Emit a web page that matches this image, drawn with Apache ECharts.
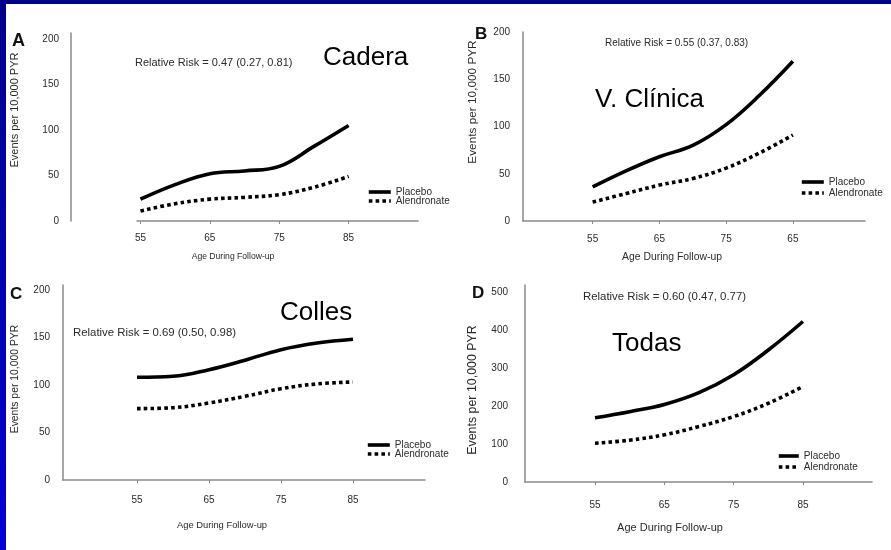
<!DOCTYPE html>
<html>
<head>
<meta charset="utf-8">
<script src="https://cdn.jsdelivr.net/npm/echarts@6/dist/echarts.min.js"></script>
<style>
html,body{margin:0;padding:0;background:#fff;}
#chart{width:891px;height:550px;}
</style>
</head>
<body>
<div id="chart"></div>
<script>
// ---- data ----
const ages = [55, 60, 65, 70, 75, 80, 85];
const xTickValues = [55, 65, 75, 85];
const xTickLabelsA = ["55", "65", "75", "85"];
const xTickLabelsB = ["55", "65", "75", "65"];
const xTickLabelsC = ["55", "65", "75", "85"];
const xTickLabelsD = ["55", "65", "75", "85"];
const yTicks200 = [0, 50, 100, 150, 200];
const yTicks500 = [0, 100, 200, 300, 400, 500];

const placeboA = [24, 40, 52, 55, 60, 82, 105];
const alendronateA = [11, 19, 24, 26, 29, 37, 49];
const placeboB = [36, 53, 68, 80, 102, 133, 169];
const alendronateB = [20, 29, 38, 45, 56, 72, 91];
const placeboC = [108, 109, 116, 126, 137, 144, 148];
const alendronateC = [75, 76, 81, 88, 96, 101, 103];
const placeboD = [169, 185, 204, 235, 282, 347, 422];
const alendronateD = [102, 110, 124, 146, 172, 207, 251];

const panelLetters = ["A", "B", "C", "D"];
const panelNames = ["Cadera", "V. Clínica", "Colles", "Todas"];
const riskTexts = [
  "Relative Risk = 0.47 (0.27, 0.81)",
  "Relative Risk = 0.55 (0.37, 0.83)",
  "Relative Risk = 0.69 (0.50, 0.98)",
  "Relative Risk = 0.60 (0.47, 0.77)"
];
const seriesNames = ["Placebo", "Alendronate"];
const xAxisTitle = "Age During Follow-up";
const yAxisTitle = "Events per 10,000 PYR";

// ---- layout / style ----
const FONT = "'Liberation Sans', Arial, Helvetica, sans-serif";
const TXT = "#2a2a2a";
const AXIS = "#8a8a8a";

const panels = [
  { grid:{left:137, top:33, width:281, height:188}, xmin:54.5, xmax:95, ymax:206.6, yTicks:yTicks200, xLabels:xTickLabelsA,
    yOffset:66, xMargin:12, yMargin:12, p:placeboA, a:alendronateA,
    legend:{left:367, top:187, gap:-1, w:22},
    letter:{x:12, y:41, s:18}, name:{x:323, y:58}, risk:{x:135, y:63, s:11},
    xName:{x:233, y:257, s:8.6}, yName:{x:15, y:110, s:11} },
  { grid:{left:523, top:32, width:342, height:189}, xmin:44.57, xmax:95.8, ymax:200, yTicks:yTicks200, xLabels:xTickLabelsB,
    yOffset:0, xMargin:13, yMargin:13, p:placeboB, a:alendronateB,
    legend:{left:800, top:177, gap:1, w:22},
    letter:{x:475, y:34, s:17}, name:{x:595, y:100}, risk:{x:605, y:43, s:10},
    xName:{x:672, y:257, s:10.4}, yName:{x:473, y:102, s:11.8} },
  { grid:{left:63, top:285, width:362, height:195}, xmin:44.72, xmax:95, ymax:205, yTicks:yTicks200, xLabels:xTickLabelsC,
    yOffset:0, xMargin:15, yMargin:13, p:placeboC, a:alendronateC,
    legend:{left:366, top:440, gap:-1, w:22},
    letter:{x:10, y:294, s:17}, name:{x:280, y:313}, risk:{x:73, y:333, s:11.4},
    xName:{x:222, y:525, s:9.4}, yName:{x:15, y:379, s:10.4} },
  { grid:{left:525, top:285, width:347, height:197}, xmin:44.9, xmax:94.96, ymax:518, yTicks:yTicks500, xLabels:xTickLabelsD,
    yOffset:0, xMargin:18, yMargin:17, p:placeboD, a:alendronateD,
    legend:{left:777, top:451, gap:1, w:20},
    letter:{x:472, y:293, s:17}, name:{x:612, y:344}, risk:{x:583, y:297, s:11.4},
    xName:{x:670, y:528, s:11}, yName:{x:473, y:390, s:12.4} }
];

const grids = [], xAxes = [], yAxes = [], series = [], legends = [], graphics = [];

// background frame
graphics.push({ type:'rect', shape:{x:0, y:0, width:891, height:4}, style:{fill:'#00008c'}, z:100 });
graphics.push({ type:'rect', shape:{x:0, y:0, width:6, height:550},
  style:{ fill: new echarts.graphic.LinearGradient(0,0,0,1,[{offset:0,color:'#00008c'},{offset:1,color:'#0000d8'}]) }, z:100 });

panels.forEach((pn, i) => {
  grids.push(Object.assign({containLabel:false}, pn.grid));
  xAxes.push({
    type:'value', gridIndex:i, min:pn.xmin, max:pn.xmax,
    splitLine:{show:false},
    axisLine:{show:true, lineStyle:{color:AXIS, width:1.5}},
    axisTick:{show:true, customValues:xTickValues, length:3, lineStyle:{color:AXIS, width:1}},
    axisLabel:{ customValues:xTickValues, margin:pn.xMargin, color:TXT, fontSize:10, fontFamily:FONT,
      formatter:(v) => { const k = xTickValues.indexOf(Math.round(v)); return k >= 0 ? pn.xLabels[k] : ''; } }
  });
  yAxes.push({
    type:'value', gridIndex:i, min:0, max:pn.ymax, offset:pn.yOffset,
    splitLine:{show:false},
    axisLine:{show:true, lineStyle:{color:AXIS, width:1.5}},
    axisTick:{show:false},
    axisLabel:{ customValues:pn.yTicks, margin:pn.yMargin, color:TXT, fontSize:10, fontFamily:FONT }
  });
  series.push({
    name:seriesNames[0], type:'line', xAxisIndex:i, yAxisIndex:i, smooth:0.4, symbol:'none',
    data: ages.map((x, k) => [x, pn.p[k]]),
    lineStyle:{color:'#000', width:3.6, type:'solid'}, itemStyle:{color:'#000'}
  });
  series.push({
    name:seriesNames[1], type:'line', xAxisIndex:i, yAxisIndex:i, smooth:0.4, symbol:'none',
    data: ages.map((x, k) => [x, pn.a[k]]),
    lineStyle:{color:'#000', width:3.6, type:[3.6, 3.2], cap:'butt'}, itemStyle:{color:'#000'}
  });
  legends.push({
    data:seriesNames, orient:'vertical', left:pn.legend.left, top:pn.legend.top,
    itemWidth:pn.legend.w, itemHeight:6, itemGap:pn.legend.gap, padding:0,
    selectedMode:false,
    itemStyle:{color:'rgba(0,0,0,0)', borderWidth:0, opacity:0},
    lineStyle:{width:3.6, opacity:1},
    textStyle:{color:TXT, fontSize:10, fontFamily:FONT, lineHeight:9}
  });
  graphics.push({ type:'text', x:pn.letter.x, y:pn.letter.y,
    style:{ text:panelLetters[i], fontSize:pn.letter.s, fontWeight:'bold', fontFamily:FONT, fill:'#111', align:'left', verticalAlign:'middle' } });
  graphics.push({ type:'text', x:pn.name.x, y:pn.name.y,
    style:{ text:panelNames[i], fontSize:26, fontFamily:FONT, fill:'#000', align:'left', verticalAlign:'middle' } });
  graphics.push({ type:'text', x:pn.risk.x, y:pn.risk.y,
    style:{ text:riskTexts[i], fontSize:pn.risk.s, fontFamily:FONT, fill:TXT, align:'left', verticalAlign:'middle' } });
  graphics.push({ type:'text', x:pn.xName.x, y:pn.xName.y,
    style:{ text:xAxisTitle, fontSize:pn.xName.s, fontFamily:FONT, fill:TXT, align:'center', verticalAlign:'middle' } });
  graphics.push({ type:'text', x:pn.yName.x, y:pn.yName.y, rotation:Math.PI/2,
    style:{ text:yAxisTitle, fontSize:pn.yName.s, fontFamily:FONT, fill:TXT, align:'center', verticalAlign:'middle' } });
});

const chart = echarts.init(document.getElementById('chart'), null, {renderer:'canvas'});
chart.setOption({
  backgroundColor:'#ffffff',
  animation:false,
  grid:grids, xAxis:xAxes, yAxis:yAxes, series:series, legend:legends,
  graphic:graphics
});
</script>
</body>
</html>
